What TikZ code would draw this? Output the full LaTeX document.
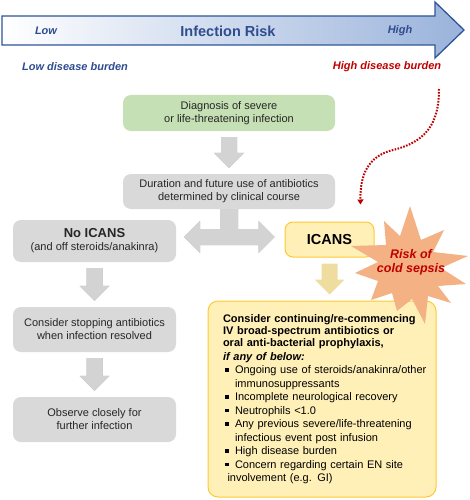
\documentclass[tikz,border=0pt]{standalone}
\usepackage{fontspec}
\setmainfont{Liberation Sans}
\usetikzlibrary{arrows.meta,calc}

\definecolor{riskblue}{HTML}{2F5597}
\definecolor{risktext}{HTML}{2E4C8E}
\definecolor{arrowblue}{HTML}{9AB3DB}
\definecolor{darkred}{HTML}{C00000}
\definecolor{boxgray}{HTML}{D9D9D9}
\definecolor{boxgreen}{HTML}{C5E0B4}
\definecolor{boxyellow}{HTML}{FFF0B8}
\definecolor{edgeyellow}{HTML}{FFC832}
\definecolor{arrgray}{HTML}{D3D3D3}
\definecolor{arrshadow}{HTML}{A6A6A6}
\definecolor{arryellow}{HTML}{EFDDA0}
\definecolor{burst}{HTML}{F4B183}
\definecolor{ink}{HTML}{262626}

% block arrow pointing down, between two node anchors
\newcommand{\downblock}[3]{%
  \fill[#1] let \p1=(#2), \p2=(#3) in
    (\x1-8pt,\y1-6pt) -- (\x1+8pt,\y1-6pt) -- (\x1+8pt,\y2+21pt)
    -- (\x1+15pt,\y2+21pt) -- (\x1,\y2+6pt) -- (\x1-15pt,\y2+21pt)
    -- (\x1-8pt,\y2+21pt) -- cycle;}
% stem down from the duration box, then left and right
\newcommand{\splitblock}[1]{%
  \fill[#1] let \p1=(noicans.east), \p2=(icans.west), \p3=(dur.south),
    \n1={\y1+4pt} in
    (\x1+8pt,\n1) -- (\x1+24pt,\n1+16pt) -- (\x1+24pt,\n1+8pt)
    -- (\x3-9pt,\n1+8pt) -- (\x3-9pt,\y3) -- (\x3+9pt,\y3)
    -- (\x3+9pt,\n1+8pt) -- (\x2-26pt,\n1+8pt) -- (\x2-26pt,\n1+16pt)
    -- (\x2-10pt,\n1) -- (\x2-26pt,\n1-16pt) -- (\x2-26pt,\n1-8pt)
    -- (\x1+24pt,\n1-8pt) -- (\x1+24pt,\n1-16pt) -- cycle;}

\tikzset{
  box/.style={rounded corners=8pt, align=center, inner sep=0pt,
    font=\fontsize{11}{13}\selectfont, text=ink},
  graybox/.style={box, fill=boxgray},
  greenbox/.style={box, fill=boxgreen},
  yellowbox/.style={box, fill=boxyellow, draw=edgeyellow, line width=1pt},
  riskarrow/.style={draw=riskblue, line width=1.3pt, left color=white,
    right color=arrowblue},
  risklabel/.style={font=\fontsize{11}{13}\selectfont\bfseries\itshape, text=risktext},
  grayarr/.style={fill=arrgray},
  grayshade/.style={fill=arrshadow, xshift=1.5pt, yshift=-1.5pt},
  yellowarr/.style={fill=arryellow},
  riskline/.style={draw=darkred, line width=2pt, dash pattern=on 1.6pt off 1.4pt,
    -{Triangle[length=5pt,width=6pt]}},
}

\begin{document}
\begin{tikzpicture}[x=1pt,y=-1pt]
\useasboundingbox (0,0) rectangle (470,500);

% risk scale
\draw[riskarrow] (2,16) -- (435,16) -- (435,2) -- (464,30) -- (435,58)
  -- (435,45) -- (2,45) -- cycle;
\node[risklabel] (low) at (46,31) {Low};
\node[font=\fontsize{14.5}{16}\selectfont\bfseries, text=risktext] (risk) at (228,31) {Infection Risk};
\node[risklabel] (high) at (400,31) {High};
\node[risklabel] (lowburden) at (75,67) {Low disease burden};
\node[risklabel, text=darkred] (highburden) at (387,67) {High disease burden};

% boxes
\node[greenbox, minimum width=212pt, minimum height=36pt] (diag) at (229,113)
  {Diagnosis of severe\\or life-threatening infection};
\node[graybox, minimum width=212pt, minimum height=35pt] (dur) at (229,191.5)
  {Duration and future use of antibiotics\\determined by clinical course};
\node[graybox, minimum width=163pt, minimum height=42pt] (noicans) at (94.5,241)
  {{\fontsize{13}{15}\selectfont\bfseries No ICANS}\\(and off steroids/anakinra)};
\node[graybox, minimum width=163pt, minimum height=45pt] (stop) at (94.5,329.5)
  {Consider stopping antibiotics\\when infection resolved};
\node[graybox, minimum width=163pt, minimum height=45pt] (watch) at (94.5,419.5)
  {Observe closely for\\further infection};
\node[yellowbox, minimum width=89pt, minimum height=35pt, text=black,
  font=\fontsize{14.5}{16}\selectfont\bfseries] (icans) at (329.5,239.5) {ICANS};
\node[yellowbox, rounded corners=10pt, minimum width=228pt, minimum height=196pt,
  text width=213pt, inner xsep=7.5pt, align=left, text=black] (keep) at (322,399)
  {\leftskip=7.5pt\fontsize{11}{12}\selectfont\bfseries
   Consider continuing/re-commencing\\
   IV broad-spectrum antibiotics or\\
   oral anti-bacterial prophylaxis,\par
   \fontsize{11}{13.5}\selectfont\itshape if any of below:\\
   \mdseries\upshape
   \makebox[12pt][l]{\hspace{2pt}\rule[2pt]{3.5pt}{3.5pt}}Ongoing use of steroids/anakinra/other\\
   \hspace*{12pt}immunosuppressants\\
   \makebox[12pt][l]{\hspace{2pt}\rule[2pt]{3.5pt}{3.5pt}}Incomplete neurological recovery\\
   \makebox[12pt][l]{\hspace{2pt}\rule[2pt]{3.5pt}{3.5pt}}Neutrophils <1.0\\
   \makebox[12pt][l]{\hspace{2pt}\rule[2pt]{3.5pt}{3.5pt}}Any previous severe/life-threatening\\
   \hspace*{12pt}infectious event post infusion\\
   \makebox[12pt][l]{\hspace{2pt}\rule[2pt]{3.5pt}{3.5pt}}High disease burden\\
   \makebox[12pt][l]{\hspace{2pt}\rule[2pt]{3.5pt}{3.5pt}}Concern regarding certain EN site\\
   \hspace*{12pt}involvement (e.g. GI)};

% block arrows
\downblock{grayshade}{diag.south}{dur.north}
\downblock{grayarr}{diag.south}{dur.north}
\splitblock{grayshade}
\splitblock{grayarr}
\downblock{grayshade}{noicans.south}{stop.north}
\downblock{grayarr}{noicans.south}{stop.north}
\downblock{grayshade}{stop.south}{watch.north}
\downblock{grayarr}{stop.south}{watch.north}
\downblock{yellowarr}{icans.south}{keep.north -| icans.south}

% high disease burden leads to ICANS
\coordinate (riskstart) at (439,89);
\draw[riskline] (riskstart) .. controls (439,125) and (425,142) .. (393,150)
  .. controls (368,156) and (360,175) .. ($(icans.north east)+(-14,-17)$);

% cold sepsis burst
\fill[burst] (410,206) -- (421,240) -- (444,230) -- (433,252) -- (468,256)
  -- (441,268) -- (466,284) -- (438,286) -- (451,303) -- (428,296)
  -- (425,324) -- (412,299) -- (397,311) -- (392,293) -- (371,300)
  -- (378,281) -- (355,273) -- (378,262) -- (351,246) -- (386,245)
  -- (384,221) -- (400,236) -- cycle;
\node[font=\fontsize{12.5}{14}\selectfont\bfseries\itshape, text=darkred, align=center,
  inner sep=0pt] (sepsis) at (411,262) {Risk of\\cold sepsis};
\end{tikzpicture}
\end{document}
